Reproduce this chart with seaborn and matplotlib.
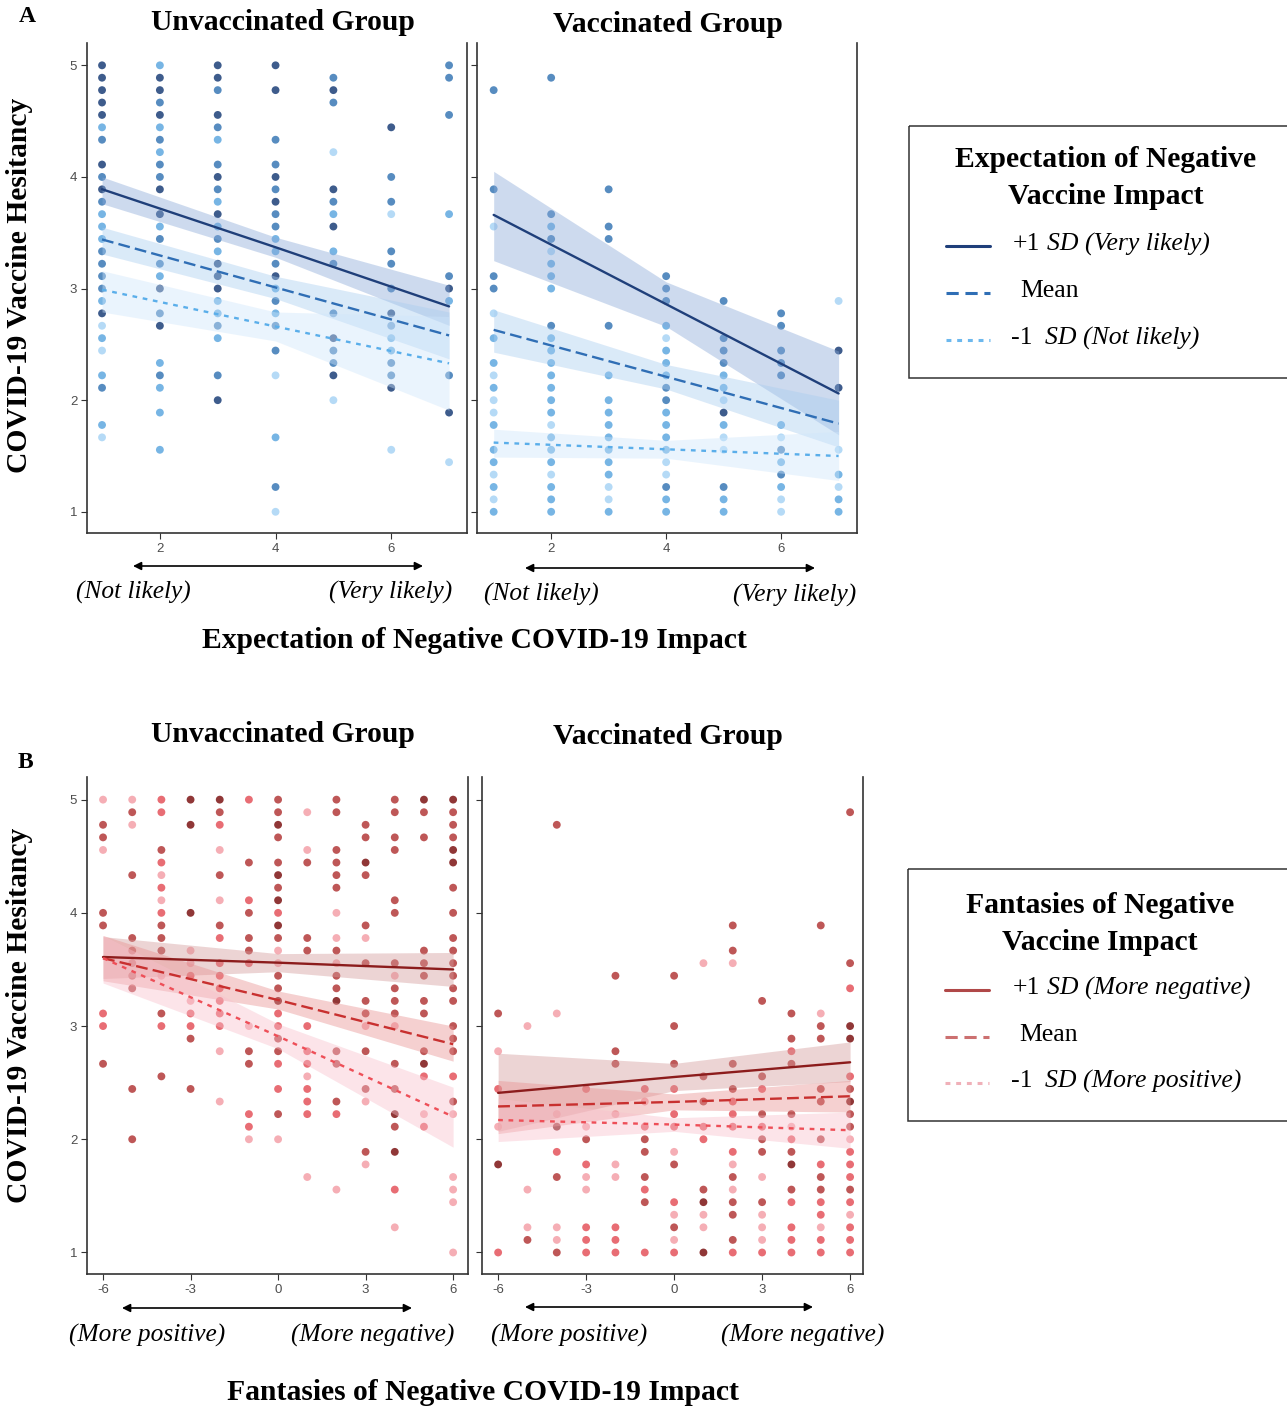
import numpy as np
import pandas as pd
import seaborn as sns
import matplotlib.pyplot as plt
from matplotlib.lines import Line2D
from matplotlib.patches import Rectangle, FancyArrowPatch

sns.set_theme(style="white")
plt.rcParams['font.family'] = ['Liberation Serif', 'DejaVu Serif']
plt.rcParams['axes.unicode_minus'] = False
plt.rcParams['text.color'] = 'black'

# hesitancy scores sit on a 1/9 grid: each point is (steps above 1, shade of moderator 1=low..4=high)
a_unvax = {
    1: [(36,4),(35,4),(34,4),(33,4),(32,4),(31,2),(30,3),(28,4),(27,3),(26,4),(25,3),(24,2),(23,2),(22,2),
        (21,3),(20,3),(19,3),(18,3),(17,2),(16,4),(15,1),(14,2),(13,1),(11,2),(10,3),(7,2),(6,1)],
    2: [(36,2),(35,4),(34,4),(33,3),(32,4),(31,2),(30,3),(29,2),(28,3),(27,3),(26,4),(24,4),(23,2),(22,3),
        (20,3),(19,2),(18,4),(16,3),(15,4),(12,2),(11,3),(10,2),(8,2),(5,2)],
    3: [(36,4),(35,4),(34,3),(32,4),(31,3),(30,2),(28,3),(27,4),(26,3),(25,2),(24,4),(23,2),(22,3),(21,2),
        (20,4),(19,4),(18,4),(17,2),(16,2),(15,3),(14,2),(11,3),(9,4)],
    4: [(36,4),(34,4),(30,3),(28,3),(27,4),(26,3),(25,4),(24,3),(23,3),(22,2),(21,2),(20,3),(19,4),(18,2),
        (17,3),(16,2),(15,3),(13,3),(11,1),(6,2),(2,3),(0,1)],
    5: [(35,3),(34,4),(33,3),(29,1),(26,4),(25,3),(24,2),(23,4),(21,2),(20,3),(16,3),(14,4),(13,3),(12,3),
        (11,4),(9,1)],
    6: [(31,4),(27,3),(25,3),(24,1),(21,3),(20,3),(18,3),(16,4),(15,3),(14,2),(13,2),(12,3),(11,3),(10,4),(5,1)],
    7: [(36,3),(35,3),(32,3),(24,2),(19,3),(18,4),(17,2),(11,3),(8,4),(4,1)],
}
a_vax = {
    1: [(34,3),(26,3),(23,1),(19,3),(18,3),(16,1),(14,2),(12,2),(11,1),(10,2),(9,1),(8,1),(7,2),(5,2),
        (4,2),(3,1),(2,2),(1,1),(0,2)],
    2: [(35,3),(24,3),(23,2),(22,3),(21,1),(20,2),(19,2),(18,2),(15,3),(14,2),(13,2),(12,2),(11,2),(10,2),
        (9,2),(8,2),(7,1),(6,2),(5,2),(4,2),(3,1),(2,2),(1,2),(0,2)],
    3: [(26,3),(23,3),(22,3),(15,3),(11,2),(9,2),(8,2),(7,2),(6,2),(5,2),(4,2),(3,2),(2,1),(1,1),(0,2)],
    4: [(19,3),(18,3),(17,3),(15,2),(14,1),(13,2),(12,2),(11,2),(10,3),(9,3),(8,2),(7,2),(6,2),(5,2),
        (4,1),(3,1),(2,3),(1,2),(0,2)],
    5: [(17,3),(14,3),(13,3),(12,3),(11,2),(10,2),(9,1),(8,4),(7,2),(6,1),(5,1),(2,3),(1,2),(0,2)],
    6: [(16,3),(15,3),(13,3),(12,3),(11,3),(7,2),(6,1),(5,3),(4,2),(3,3),(2,2),(1,1),(0,1)],
    7: [(17,1),(13,4),(10,4),(5,1),(3,2),(2,1),(1,2),(0,2)],
}
b_unvax = {
    -6: [(36,1),(34,3),(33,3),(32,1),(27,3),(26,3),(19,2),(18,2),(15,3)],
    -5: [(36,1),(35,3),(34,1),(30,3),(25,3),(24,3),(23,3),(22,3),(21,3),(13,3),(9,3)],
    -4: [(36,2),(35,2),(32,3),(31,2),(30,1),(29,2),(28,1),(27,2),(26,3),(25,3),(24,3),(22,1),(19,3),(18,2),(14,3)],
    -3: [(36,4),(34,4),(27,4),(24,1),(23,1),(22,2),(20,1),(19,2),(18,2),(17,3),(13,3)],
    -2: [(36,4),(35,3),(34,2),(32,1),(30,3),(28,1),(26,3),(25,2),(23,2),(22,2),(21,2),(20,2),(19,2),(18,2),
         (16,1),(12,1)],
    -1: [(36,2),(31,3),(28,2),(27,3),(25,3),(24,3),(23,2),(18,1),(16,3),(15,3),(11,2),(10,2),(9,1)],
    0: [(36,3),(35,3),(34,4),(33,3),(31,3),(30,4),(29,3),(28,4),(27,2),(26,4),(25,3),(24,1),(23,1),(22,3),
        (21,3),(20,4),(19,2),(18,2),(17,3),(16,3),(15,2),(13,2),(11,3),(9,1)],
    1: [(35,1),(32,1),(31,3),(25,3),(24,3),(18,2),(16,2),(15,2),(14,1),(13,2),(12,2),(11,2),(6,1)],
    2: [(36,3),(35,3),(32,3),(31,3),(30,3),(29,3),(27,1),(25,1),(24,3),(23,1),(22,3),(21,3),(20,4),(16,3),
        (15,3),(12,3),(11,2),(5,1)],
    3: [(34,3),(33,3),(31,4),(30,3),(26,3),(25,1),(23,3),(20,3),(19,3),(18,1),(16,3),(13,3),(12,1),(8,3),(7,1)],
    4: [(36,3),(35,3),(33,3),(32,3),(28,3),(27,3),(23,3),(22,1),(21,3),(20,3),(19,3),(18,1),(15,3),(13,3),
        (11,4),(10,3),(8,4),(5,2),(2,1)],
    5: [(36,4),(35,3),(33,3),(24,3),(23,3),(22,3),(20,3),(19,3),(16,3),(15,4),(14,2),(11,1),(10,2)],
    6: [(36,4),(35,3),(34,3),(33,3),(32,4),(31,4),(29,3),(27,3),(25,3),(24,3),(23,3),(22,3),(21,3),(20,3),
        (18,3),(17,3),(16,3),(14,2),(12,3),(11,1),(6,1),(5,1),(4,1),(0,1)],
}
b_vax = {
    -6: [(19,3),(16,1),(13,2),(10,1),(7,4),(0,2)],
    -5: [(18,1),(5,1),(2,1),(1,3)],
    -4: [(34,3),(19,1),(11,1),(10,4),(8,2),(6,3),(2,1),(1,1),(0,3)],
    -3: [(13,2),(10,1),(9,3),(7,2),(6,1),(5,1),(2,2),(1,2),(0,2)],
    -2: [(22,3),(16,3),(15,3),(11,1),(7,1),(6,1),(2,2),(1,2),(0,2)],
    -1: [(13,2),(12,1),(10,2),(9,3),(8,3),(6,3),(5,2),(4,3),(0,2)],
    0: [(22,3),(18,3),(15,3),(13,2),(11,2),(10,2),(8,1),(7,3),(4,2),(3,1),(2,3),(1,1),(0,2)],
    1: [(23,1),(14,3),(12,3),(10,2),(9,2),(5,3),(4,4),(3,1),(2,1),(0,4)],
    2: [(26,3),(24,3),(23,1),(15,3),(13,3),(12,2),(11,2),(10,2),(8,2),(7,1),(6,3),(5,1),(4,3),(3,3),(1,3),(0,2)],
    3: [(20,3),(14,3),(13,2),(11,3),(10,2),(9,3),(8,3),(6,1),(4,3),(3,1),(2,1),(1,1),(0,2)],
    4: [(19,3),(17,3),(16,2),(15,3),(11,3),(10,1),(9,2),(8,3),(7,4),(5,3),(4,2),(2,2),(1,2),(0,2)],
    5: [(26,3),(19,1),(18,3),(17,3),(13,3),(12,3),(9,3),(7,2),(6,3),(5,3),(4,2),(3,2),(2,1),(1,2),(0,2)],
    6: [(35,3),(23,3),(21,2),(18,4),(17,4),(14,2),(13,3),(12,4),(11,3),(10,3),(9,1),(8,2),(7,2),(6,2),
        (5,3),(4,2),(3,1),(2,2),(1,2),(0,2)],
}

levels = ['+1 SD', 'Mean', '-1 SD']
# simple slopes: start / middle / end of x range
a_fit_x = [1, 4, 7]
a_unvax_fit = {'+1 SD': ([3.89, 3.37, 2.84], [3.76, 3.28, 2.67], [4.00, 3.46, 3.03]),
               'Mean':  ([3.44, 3.01, 2.58], [3.31, 2.91, 2.37], [3.55, 3.11, 2.79]),
               '-1 SD': ([2.99, 2.66, 2.33], [2.79, 2.53, 1.91], [3.16, 2.79, 2.75])}
a_vax_fit = {'+1 SD': ([3.66, 2.86, 2.06], [3.25, 2.66, 1.69], [4.05, 3.06, 2.44]),
             'Mean':  ([2.63, 2.21, 1.79], [2.43, 2.10, 1.58], [2.81, 2.32, 2.00]),
             '-1 SD': ([1.62, 1.56, 1.50], [1.49, 1.48, 1.28], [1.74, 1.64, 1.72])}
b_fit_x = [-6, 0, 6]
b_unvax_fit = {'+1 SD': ([3.61, 3.56, 3.50], [3.42, 3.48, 3.35], [3.79, 3.64, 3.65]),
               'Mean':  ([3.60, 3.23, 2.84], [3.40, 3.15, 2.69], [3.80, 3.31, 3.00]),
               '-1 SD': ([3.60, 2.91, 2.20], [3.38, 2.80, 1.93], [3.80, 3.02, 2.46])}
b_vax_fit = {'+1 SD': ([2.41, 2.55, 2.68], [2.07, 2.43, 2.51], [2.76, 2.67, 2.86]),
             'Mean':  ([2.29, 2.33, 2.38], [2.05, 2.26, 2.24], [2.52, 2.40, 2.52]),
             '-1 SD': ([2.17, 2.13, 2.08], [1.98, 2.07, 1.92], [2.36, 2.19, 2.24])}

blue_pts = {1: '#a8d4f5', 2: '#5fa8e0', 3: '#3a78b5', 4: '#1c3f78'}
red_pts = {1: '#f4a0a8', 2: '#e4545c', 3: '#b33a3a', 4: '#7d1414'}
blue_lines = {'+1 SD': '#1f3f7a', 'Mean': '#2f6eb5', '-1 SD': '#5aaeea'}
red_lines = {'+1 SD': '#8c1c1c', 'Mean': '#c8302f', '-1 SD': '#ee4f58'}
blue_bands = {'+1 SD': '#8aa9d8', 'Mean': '#a9cdf0', '-1 SD': '#cfe6fb'}
red_bands = {'+1 SD': '#d49a9a', 'Mean': '#e89090', '-1 SD': '#f8c0cc'}
dashes = {'+1 SD': '', 'Mean': (5, 2.2), '-1 SD': (2, 2.4)}


def to_df(cols):
    rows = []
    for x, pts in cols.items():
        for k, lvl in pts:
            rows.append((x, 1 + k / 9, lvl))
    return pd.DataFrame(rows, columns=['x', 'y', 'shade'])


W, H = 1287, 1406
fig = plt.figure(figsize=(W / 100, H / 100), dpi=100)


def px_axes(x0, y0, x1, y1):
    return fig.add_axes([x0 / W, 1 - y1 / H, (x1 - x0) / W, (y1 - y0) / H])


def panel(ax, cols, fit_x, fits, pts, lines, bands, xlim, xticks, show_y):
    df = to_df(cols)
    sns.scatterplot(data=df, x='x', y='y', hue='shade', palette=pts, s=32, alpha=0.85,
                    linewidth=0, legend=False, ax=ax, zorder=2)
    for lev in levels:
        y, lo, hi = fits[lev]
        ax.fill_between(fit_x, lo, hi, color=bands[lev], alpha=0.42, lw=0, zorder=3)
    fdf = pd.DataFrame([(x, fits[lev][0][i], lev) for lev in levels for i, x in enumerate(fit_x)],
                       columns=['x', 'y', 'level'])
    sns.lineplot(data=fdf, x='x', y='y', hue='level', style='level', palette=lines, dashes=dashes,
                 linewidth=1.7, legend=False, ax=ax, zorder=4)
    ax.set_xlim(*xlim)
    ax.set_ylim(0.81, 5.2)
    ax.set_xticks(xticks)
    ax.set_yticks([1, 2, 3, 4, 5])
    ax.set_xlabel('')
    ax.set_ylabel('')
    for s in ['left', 'right', 'bottom']:
        ax.spines[s].set_color('#333333')
        ax.spines[s].set_linewidth(1.2)
    ax.spines['top'].set_visible(False)
    ax.tick_params(axis='both', which='both', direction='out', length=4, width=0.8, color='#333333',
                   labelsize=9.5, labelcolor='#4d4d4d', pad=3, bottom=True, left=True)
    for lab in ax.get_xticklabels() + ax.get_yticklabels():
        lab.set_family('Liberation Sans')
    if not show_y:
        ax.set_yticklabels([])


ax1 = px_axes(87, 43, 467, 533)
panel(ax1, a_unvax, a_fit_x, a_unvax_fit, blue_pts, blue_lines, blue_bands, (0.74, 7.31), [2, 4, 6], True)
ax2 = px_axes(477, 43, 857, 533)
panel(ax2, a_vax, a_fit_x, a_vax_fit, blue_pts, blue_lines, blue_bands, (0.71, 7.32), [2, 4, 6], False)
ax3 = px_axes(87, 777, 468, 1274)
panel(ax3, b_unvax, b_fit_x, b_unvax_fit, red_pts, red_lines, red_bands, (-6.55, 6.51), [-6, -3, 0, 3, 6], True)
ax4 = px_axes(482, 777, 863, 1274)
panel(ax4, b_vax, b_fit_x, b_vax_fit, red_pts, red_lines, red_bands, (-6.55, 6.44), [-6, -3, 0, 3, 6], False)

# overlay in pixel coordinates for titles, arrows and legend boxes
ov = fig.add_axes([0, 0, 1, 1])
ov.set_xlim(0, W)
ov.set_ylim(H, 0)
ov.axis('off')
ov.patch.set_alpha(0)

bold = dict(fontweight='bold', ha='center', va='center', color='black')
ov.text(27, 17, 'A', fontsize=17, **bold)
ov.text(25, 762, 'B', fontsize=17, **bold)
ov.text(283, 22, 'Unvaccinated Group', fontsize=21.3, **bold)
ov.text(668, 24, 'Vaccinated Group', fontsize=21.3, **bold)
ov.text(283, 734, 'Unvaccinated Group', fontsize=21.3, **bold)
ov.text(668, 737, 'Vaccinated Group', fontsize=21.3, **bold)
ov.text(20, 285, 'COVID-19 Vaccine Hesitancy', fontsize=21.3, rotation=90, **bold)
ov.text(20, 1015, 'COVID-19 Vaccine Hesitancy', fontsize=21.3, rotation=90, **bold)
ov.text(474, 640, 'Expectation of Negative COVID-19 Impact', fontsize=21.3, **bold)
ov.text(483, 1392, 'Fantasies of Negative COVID-19 Impact', fontsize=21.3, **bold)

ital = dict(fontstyle='italic', ha='center', va='center', fontsize=18.3, color='black')


def arrow(x0, x1, y):
    ov.add_patch(FancyArrowPatch((x0, y), (x1, y), arrowstyle='<|-|>', mutation_scale=12,
                                 color='black', lw=1.2, shrinkA=0, shrinkB=0))


arrow(133, 423, 566)
ov.text(133, 592, '(Not likely)', **ital)
ov.text(391, 592, '(Very likely)', **ital)
arrow(525, 815, 568)
ov.text(541, 594, '(Not likely)', **ital)
ov.text(795, 595, '(Very likely)', **ital)
arrow(122, 412, 1308)
ov.text(147, 1335, '(More positive)', **ital)
ov.text(373, 1335, '(More negative)', **ital)
arrow(525, 813, 1307)
ov.text(569, 1335, '(More positive)', **ital)
ov.text(803, 1335, '(More negative)', **ital)


def legend_box(x0, y0, y1, cx, title, ty, rows, lcols):
    ov.add_patch(Rectangle((x0, y0), 420, y1 - y0, fill=False, edgecolor='#333333', lw=1.1))
    ov.text(cx, ty, title, fontsize=21.3, fontweight='bold', ha='center', va='center', linespacing=1.45,
            color='black')
    for (ly, pre, it, tx), lev in zip(rows, levels):
        ov.add_line(Line2D([x0 + 37, x0 + 81], [ly, ly], color=lcols[lev], lw=2.2,
                           dashes=(4, 2.2) if lev == 'Mean' else ((1.6, 1.9) if lev == '-1 SD' else (None, None)),
                           linestyle='-'))
        ov.text(tx, ly - 2, pre, fontsize=18.5, ha='left', va='center', color='black')
        if it:
            ov.text(tx + 34, ly - 2, it, fontsize=18.5, fontstyle='italic', ha='left', va='center',
                    color='black')


legend_box(909, 126, 378, 1106, 'Expectation of Negative\nVaccine Impact', 178,
           [(246, '+1', 'SD (Very likely)', 1013), (293, 'Mean', '', 1020), (340, '-1', 'SD (Not likely)', 1011)],
           {'+1 SD': '#1f3f7a', 'Mean': '#2f6eb5', '-1 SD': '#6cb8ee'})
legend_box(908, 869, 1121, 1100, 'Fantasies of Negative\nVaccine Impact', 924,
           [(990, '+1', 'SD (More negative)', 1013), (1037, 'Mean', '', 1019), (1083, '-1', 'SD (More positive)', 1011)],
           {'+1 SD': '#b04848', 'Mean': '#cc7070', '-1 SD': '#f0b0b8'})

fig.savefig('out.png', dpi=100)
